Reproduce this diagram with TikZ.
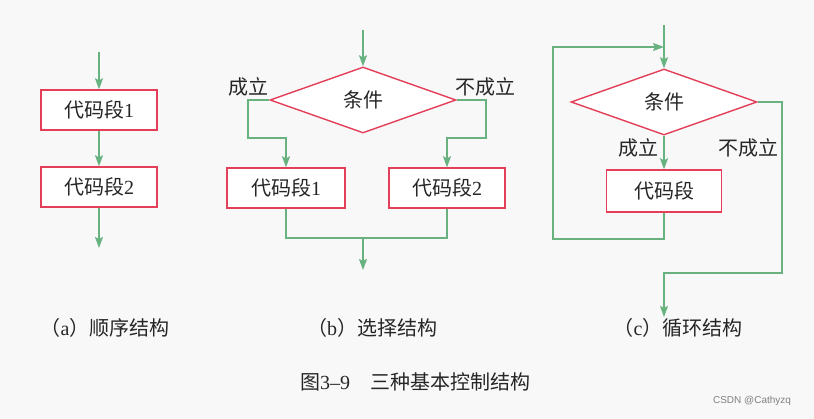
\documentclass[tikz,border=0pt]{standalone}
\usepackage{fontspec}
\usepackage{tikz}
\usetikzlibrary{shapes.geometric,arrows.meta}
\setmainfont{Liberation Serif}
\newfontfamily\cjk{Noto Sans CJK SC}
\definecolor{boxred}{RGB}{228,62,88}
\definecolor{flowgreen}{RGB}{104,178,128}
\definecolor{inkgray}{RGB}{38,38,38}
\definecolor{paper}{RGB}{248,248,248}

\begin{document}
\begin{tikzpicture}[
    x=1pt, y=-1pt,
    font=\fontsize{20}{23}\selectfont, text=inkgray,
    box/.style={rectangle, draw=boxred, line width=1.4pt, fill=white,
                minimum height=40pt, inner sep=0pt, align=center},
    cond/.style={diamond, draw=boxred, line width=1.4pt, fill=white,
                 minimum width=186pt, minimum height=66pt, inner sep=0pt},
    line/.style={draw=flowgreen, line width=1.3pt, line join=miter},
    arrow/.style={line, ->, >={Stealth[length=11pt, width=8pt, inset=2pt]}},
    caption/.style={font=\fontsize{20}{23}\selectfont}
]
    \fill[paper] (0,0) rectangle (814,419);
    \useasboundingbox (0,0) rectangle (814,419);

    % (a) sequence
    \node[box, minimum width=116pt] (a1) at (99,110) {{\cjk 代码段}1};
    \node[box, minimum width=116pt] (a2) at (99,187) {{\cjk 代码段}2};
    \coordinate (ain) at (99,52);
    \coordinate (aout) at (99,248);
    \draw[arrow] (ain) -- (a1);
    \draw[arrow] (a1) -- (a2);
    \draw[arrow] (a2) -- (aout);

    % (b) selection
    \node[cond] (bcond) at (363,100) {\cjk 条件};
    \node[box, minimum width=118pt] (b1) at (286,188) {{\cjk 代码段}1};
    \node[box, minimum width=116pt] (b2) at (447,188) {{\cjk 代码段}2};
    \coordinate (bin) at (363,30);
    \coordinate (bl) at (248,138);
    \coordinate (br) at (486,138);
    \coordinate (bjoin) at (363,238);
    \coordinate (bout) at (363,270);
    \draw[arrow] (bin) -- (bcond);
    \draw[arrow] (bcond.west) -| (bl) -| (b1.north);
    \draw[arrow] (bcond.east) -| (br) -| (b2.north);
    \draw[line] (b1.south) |- (bjoin) -| (b2.south);
    \draw[arrow] (bjoin) -- (bout);
    \node (byes) at (248,87) {\cjk 成立};
    \node (bno) at (485,87) {\cjk 不成立};

    % (c) loop
    \node[cond] (ccond) at (664,102) {\cjk 条件};
    \node[box, minimum width=115pt, minimum height=42pt] (cbody) at (664,191) {\cjk 代码段};
    \coordinate (cin) at (664,25);
    \coordinate (ctop) at (664,47);
    \coordinate (cback) at (553,239);
    \coordinate (cright) at (782,273);
    \coordinate (cend) at (664,317);
    \draw[arrow] (cin) -- (ccond);
    \draw[arrow] (ccond) -- (cbody);
    \draw[arrow] (cbody.south) |- (cback) |- (ctop);
    \draw[arrow] (ccond.east) -| (cright) -| (cend);
    \node (cyes) at (638,148) {\cjk 成立};
    \node (cno) at (748,148) {\cjk 不成立};

    % captions
    \node[caption] (capa) at (105,328) {{\cjk （}a{\cjk ）顺序结构}};
    \node[caption] (capb) at (372,328) {{\cjk （}b{\cjk ）选择结构}};
    \node[caption] (capc) at (678,328) {{\cjk （}c{\cjk ）循环结构}};
    \node[caption] (title) at (415,382) {{\cjk 图}3--9\hspace{1em}{\cjk 三种基本控制结构}};
    \node[font=\fontsize{10}{12}\selectfont\fontspec{Liberation Sans}, text=gray] (mark) at (752,401) {CSDN @Cathyzq};
\end{tikzpicture}
\end{document}
